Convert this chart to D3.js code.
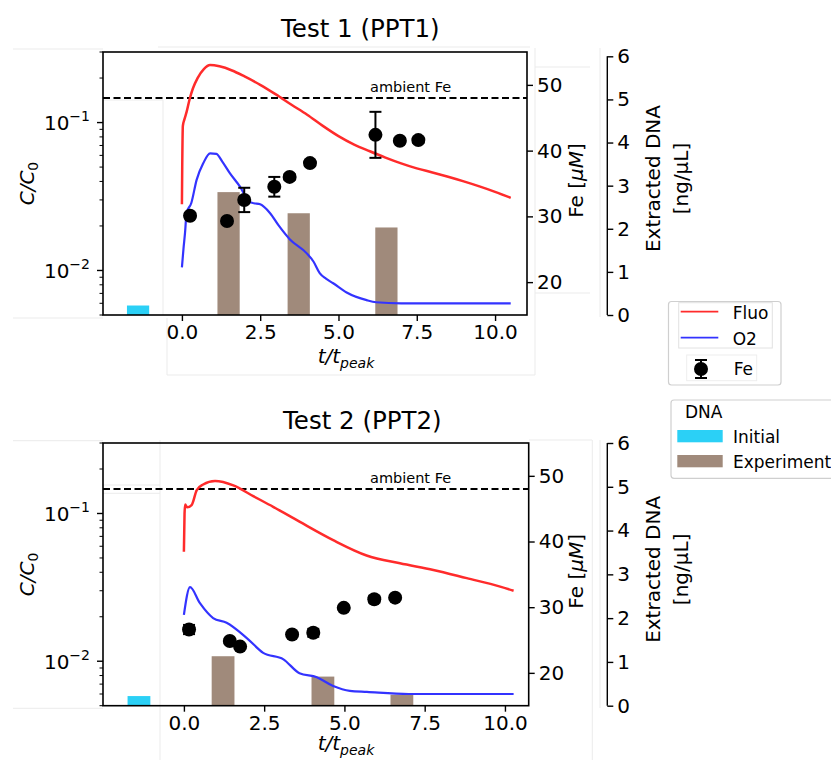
<!DOCTYPE html>
<html><head><meta charset="utf-8">
<script src="https://cdn.jsdelivr.net/npm/d3@7"></script>
<style>body{margin:0;background:#fff}svg{display:block;font-family:"DejaVu Sans",sans-serif}</style>
</head><body>
<script>
// ---------- data ----------
const titles = ["Test 1 (PPT1)", "Test 2 (PPT2)"];
const xTicks = [0, 2.5, 5, 7.5, 10];
const feTicks = [20, 30, 40, 50];
const dnaTicks = [0, 1, 2, 3, 4, 5, 6];
const ambientFe = 48;

const fluoT1 = [0, 0.01, 0.03, 0.08, 0.15, 0.25, 0.35, 0.5, 0.7, 0.9, 1.2, 1.6, 2.0, 2.5, 3.0, 3.5, 4.0, 4.5, 5.0, 5.5, 6.0, 6.5, 7.0, 7.5, 8.0, 8.5, 9.0, 9.5, 10.0, 10.5];
const fluo1  = [0.028, 0.05, 0.095, 0.105, 0.118, 0.145, 0.17, 0.2, 0.23, 0.245, 0.24, 0.225, 0.205, 0.18, 0.155, 0.132, 0.113, 0.095, 0.081, 0.071, 0.064, 0.058, 0.053, 0.049, 0.046, 0.043, 0.040, 0.037, 0.034, 0.031];
const o2T1 = [0, 0.05, 0.1, 0.15, 0.3, 0.47, 0.68, 0.9, 1.1, 1.3, 1.53, 1.85, 2.17, 2.3, 2.5, 2.81, 3.1, 3.45, 3.98, 4.2, 4.4, 4.6, 4.83, 5.26, 5.9, 6.2, 7, 8, 9, 10, 10.5];
const o2_1  = [0.0105, 0.014, 0.018, 0.0245, 0.0286, 0.041, 0.053, 0.062, 0.0614, 0.054, 0.0455, 0.037, 0.029, 0.0285, 0.028, 0.0245, 0.020, 0.0162, 0.0131, 0.0115, 0.0096, 0.0088, 0.0082, 0.0071, 0.0063, 0.0061, 0.006, 0.006, 0.006, 0.006, 0.006];
const feT1 = [0.26, 1.44, 1.99, 2.95, 3.44, 4.09, 6.18, 6.96, 7.55];
const fe1  = [30.1, 29.3, 32.5, 34.5, 36.0, 38.1, 42.4, 41.5, 41.6];
const feErr1 = [0.4, 0.4, 1.85, 1.5, 0.4, 0.4, 3.5, 0.4, 0.4];
const dnaT1 = [1.49, 3.73, 6.53];
const dna1  = [2.85, 2.36, 2.03];

const fluoT2 = [0, 0.02, 0.04, 0.1, 0.24, 0.4, 0.6, 0.97, 1.54, 2.16, 2.78, 3.6, 4.65, 5.69, 6.73, 7.77, 8.81, 9.85, 10.27];
const fluo2  = [0.055, 0.1, 0.115, 0.11, 0.114, 0.144, 0.157, 0.166, 0.155, 0.131, 0.111, 0.088, 0.066, 0.052, 0.046, 0.0415, 0.0365, 0.032, 0.030];
const o2T2 = [0, 0.19, 0.5, 0.91, 1.33, 1.95, 2.47, 3.1, 3.6, 4.14, 4.65, 5.17, 5.7, 7, 8, 9, 10, 10.27];
const o2_2  = [0.0206, 0.0317, 0.0247, 0.0196, 0.0182, 0.0144, 0.0114, 0.0103, 0.0083, 0.0078, 0.0068, 0.0063, 0.0062, 0.006, 0.006, 0.006, 0.006, 0.006];
const feT2 = [0.16, 1.43, 1.75, 3.37, 4.03, 4.98, 5.93, 6.58];
const fe2  = [26.6, 24.85, 24.0, 25.85, 26.1, 29.9, 31.2, 31.45];
const feErr2 = [0.7, 0.3, 0.3, 0.3, 0.6, 0.3, 0.5, 0.3];
const dnaT2 = [1.22, 4.33, 6.79];
const dna2  = [1.13, 0.665, 0.25];

const initialT = -1.4;
const initialDNA = 0.22;
const barWidth = 0.71;

// ---------- drawing ----------
const W = 831, H = 760;
const RED = "#ff2b2b", BLUE = "#3333ff", BROWN = "#a08a7b", CYAN = "#2bd0f6";
const svg = d3.select("body").append("svg").attr("width", W).attr("height", H);

// faint artefact lines
const faint = [
  [13,49,103,49],[13,318,103,318],[103,100,163,100],[163,100,163,315],[158,47,530,47],[167,318,167,375],[167,375,535,375],
  [535,48,535,375],[535,67,590,67],[535,293,590,293],[600,48,600,317],
  [13,440.7,103,440.7],[103,485,160,485],[103,493.3,160,493.3],[160,440,160,760],[13,708.3,103,708.3],
  [592.3,440,592.3,760],[529,440,592,440],[600,440,600,708]
];
svg.append("g").selectAll("line").data(faint).join("line")
  .attr("x1",d=>d[0]).attr("y1",d=>d[1]).attr("x2",d=>d[2]).attr("y2",d=>d[3])
  .attr("stroke","#ebebeb").attr("stroke-width",1);

const panels = [
  {title: titles[0], titleX: 281, titleY: 37, left: 103, right: 527, top: 52, bottom: 315, xdom: [-2.52, 11.02], dnaTop: 6.1,
   fluoT: fluoT1, fluo: fluo1, o2T: o2T1, o2: o2_1, feT: feT1, fe: fe1, feErr: feErr1, dnaT: dnaT1, dna: dna1, xlabY: 363},
  {title: titles[1], titleX: 283, titleY: 429, left: 103, right: 528.7, top: 443, bottom: 705.7, xdom: [-2.52, 10.74], dnaTop: 6.0,
   fluoT: fluoT2, fluo: fluo2, o2T: o2T2, o2: o2_2, feT: feT2, fe: fe2, feErr: feErr2, dnaT: dnaT2, dna: dna2, xlabY: 750}
];

function sup(g, x, y, base, exp, anchorEnd) {
  const t = g.append("text").attr("x", x).attr("y", y).attr("font-size", 20).attr("text-anchor", anchorEnd ? "end" : "start");
  t.append("tspan").text(base);
  t.append("tspan").attr("font-size", 14).attr("dy", -9).text(exp);
}

panels.forEach(p => {
  const g = svg.append("g");
  const x = d3.scaleLinear().domain(p.xdom).range([p.left, p.right]);
  const yC = d3.scaleLog().domain([0.005, 0.3]).range([p.bottom, p.top]);
  const yFe = d3.scaleLinear().domain([15, 55]).range([p.bottom, p.top]);
  const yD = d3.scaleLinear().domain([0, p.dnaTop]).range([p.bottom, p.top]);
  const dnaX = 607.3;

  // title
  g.append("text").attr("x", p.titleX).attr("y", p.titleY).attr("font-size", 24.5).text(p.title);

  // bars
  g.append("rect").attr("x", x(initialT - barWidth/2)).attr("width", x(initialT + barWidth/2) - x(initialT - barWidth/2))
    .attr("y", yD(initialDNA)).attr("height", yD(0) - yD(initialDNA)).attr("fill", CYAN);
  g.selectAll(".bar").data(p.dnaT.map((t,i)=>({t, v: p.dna[i]}))).join("rect")
    .attr("x", d => x(d.t - barWidth/2)).attr("width", d => x(d.t + barWidth/2) - x(d.t - barWidth/2))
    .attr("y", d => yD(d.v)).attr("height", d => yD(0) - yD(d.v)).attr("fill", BROWN);

  // ambient Fe
  g.append("line").attr("x1", p.left).attr("x2", p.right).attr("y1", yFe(ambientFe)).attr("y2", yFe(ambientFe))
    .attr("stroke", "#000").attr("stroke-width", 2).attr("stroke-dasharray", "7,3.5");
  g.append("text").attr("x", 370).attr("y", yFe(ambientFe) - 6).attr("font-size", 14.5).text("ambient Fe");

  // lines
  const line = d3.line().x(d => x(d[0])).y(d => yC(d[1])).curve(d3.curveMonotoneX);
  g.append("path").datum(p.o2T.map((t,i)=>[t, p.o2[i]])).attr("d", line)
    .attr("fill", "none").attr("stroke", BLUE).attr("stroke-width", 2.2).attr("stroke-linejoin","round");
  g.append("path").datum(p.fluoT.map((t,i)=>[t, p.fluo[i]])).attr("d", line)
    .attr("fill", "none").attr("stroke", RED).attr("stroke-width", 2.5).attr("stroke-linejoin","round");

  // Fe points
  const fd = p.feT.map((t,i)=>({t, v: p.fe[i], e: p.feErr[i]}));
  const eg = g.append("g").attr("stroke", "#000").attr("stroke-width", 2);
  fd.forEach(d => {
    const cx = x(d.t), y1 = yFe(d.v + d.e), y2 = yFe(d.v - d.e);
    eg.append("line").attr("x1", cx).attr("x2", cx).attr("y1", y1).attr("y2", y2);
    eg.append("line").attr("x1", cx-6).attr("x2", cx+6).attr("y1", y1).attr("y2", y1);
    eg.append("line").attr("x1", cx-6).attr("x2", cx+6).attr("y1", y2).attr("y2", y2);
  });
  g.selectAll(".fe").data(fd).join("circle").attr("cx", d => x(d.t)).attr("cy", d => yFe(d.v)).attr("r", 7).attr("fill", "#000");

  // frame
  g.append("rect").attr("x", p.left).attr("y", p.top).attr("width", p.right - p.left).attr("height", p.bottom - p.top)
    .attr("fill", "none").attr("stroke", "#000").attr("stroke-width", 1.6);

  // x axis
  const xa = g.append("g").attr("transform", `translate(0,${p.bottom})`)
    .call(d3.axisBottom(x).tickValues(xTicks).tickFormat(d3.format(".1f")).tickSize(6).tickPadding(4));
  xa.select(".domain").remove();
  xa.selectAll("line").attr("stroke-width", 1.4);
  xa.selectAll("text").attr("font-size", 20).attr("font-family", "DejaVu Sans");

  // left log axis
  const minors = [];
  [0.001, 0.01, 0.1].forEach(dec => { for (let k = 2; k <= 9; k++) { const v = k*dec; if (v >= 0.005 && v <= 0.3 + 1e-9) minors.push(v); } });
  g.selectAll(".mn").data(minors).join("line").attr("x1", p.left - 3.5).attr("x2", p.left)
    .attr("y1", d => yC(d)).attr("y2", d => yC(d)).attr("stroke", "#000").attr("stroke-width", 1);
  [[0.1, "\u22121"], [0.01, "\u22122"]].forEach(([v, e]) => {
    g.append("line").attr("x1", p.left - 6).attr("x2", p.left).attr("y1", yC(v)).attr("y2", yC(v)).attr("stroke", "#000").attr("stroke-width", 1.4);
    sup(g, 90, yC(v) + 7.5, "10", e, true);
  });
  const cl = g.append("text").attr("transform", `translate(34,${(p.top+p.bottom)/2}) rotate(-90)`).attr("text-anchor", "middle").attr("font-size", 20).attr("font-style", "italic");
  cl.append("tspan").text("C/C");
  cl.append("tspan").attr("font-size", 14).attr("dy", 4).attr("font-style", "normal").text("0");

  // x label
  const xl = g.append("text").attr("x", 346).attr("y", p.xlabY).attr("text-anchor", "middle").attr("font-size", 20).attr("font-style", "italic");
  xl.append("tspan").text("t/t");
  xl.append("tspan").attr("font-size", 14).attr("dy", 5).text("peak");

  // Fe axis (right)
  const fa = g.append("g").attr("transform", `translate(${p.right},0)`)
    .call(d3.axisRight(yFe).tickValues(feTicks).tickSize(6).tickPadding(4));
  fa.select(".domain").remove();
  fa.selectAll("line").attr("stroke-width", 1.4);
  fa.selectAll("text").attr("font-size", 20).attr("font-family", "DejaVu Sans");
  const fl = g.append("text").attr("transform", `translate(583,${(p.top+p.bottom)/2 - 3}) rotate(-90)`).attr("text-anchor", "middle").attr("font-size", 20);
  fl.append("tspan").text("Fe [");
  fl.append("tspan").attr("font-style", "italic").text("\u03bcM");
  fl.append("tspan").text("]");

  // DNA axis
  const da = g.append("g").attr("transform", `translate(${dnaX},0)`)
    .call(d3.axisRight(yD).tickValues(dnaTicks).tickFormat(d3.format("d")).tickSize(6).tickPadding(4));
  da.select(".domain").attr("d", `M0,${yD(6)}V${yD(0)}`).attr("stroke-width", 1.4);
  da.selectAll("line").attr("stroke-width", 1.4);
  da.selectAll("text").attr("font-size", 20).attr("font-family", "DejaVu Sans");
  const dl = g.append("text").attr("transform", `translate(660,${(p.top+p.bottom)/2 - 5}) rotate(-90)`).attr("text-anchor", "middle").attr("font-size", 20);
  dl.append("tspan").attr("x", 0).attr("dy", 0).text("Extracted DNA");
  dl.append("tspan").attr("x", 0).attr("dy", 28).text("[ng/\u03bcL]");
});

// legend 1
const l1 = svg.append("g").attr("font-size", 17);
l1.append("rect").attr("x", 668.5).attr("y", 301.5).attr("width", 112.5).attr("height", 83.5).attr("rx", 3)
  .attr("fill", "#fff").attr("stroke", "#cfcfcf").attr("stroke-width", 1.2);
l1.append("rect").attr("x", 678.7).attr("y", 302.7).attr("width", 93.6).attr("height", 45.3).attr("fill", "none").attr("stroke", "#e2e2e2");
l1.append("rect").attr("x", 686.7).attr("y", 355).attr("width", 70).attr("height", 25.7).attr("fill", "none").attr("stroke", "#eeeeee");
l1.append("line").attr("x1", 680.7).attr("x2", 718.3).attr("y1", 311.7).attr("y2", 311.7).attr("stroke", RED).attr("stroke-width", 1.8);
l1.append("line").attr("x1", 680.7).attr("x2", 718.3).attr("y1", 337.7).attr("y2", 337.7).attr("stroke", BLUE).attr("stroke-width", 1.8);
l1.append("text").attr("x", 732.7).attr("y", 318.5).text("Fluo");
l1.append("text").attr("x", 732.7).attr("y", 344.5).text("O2");
l1.append("line").attr("x1", 701).attr("x2", 701).attr("y1", 360).attr("y2", 378).attr("stroke", "#000").attr("stroke-width", 2);
l1.append("line").attr("x1", 695).attr("x2", 707).attr("y1", 360).attr("y2", 360).attr("stroke", "#000").attr("stroke-width", 2);
l1.append("line").attr("x1", 695).attr("x2", 707).attr("y1", 378).attr("y2", 378).attr("stroke", "#000").attr("stroke-width", 2);
l1.append("circle").attr("cx", 701).attr("cy", 369).attr("r", 7).attr("fill", "#000");
l1.append("text").attr("x", 733.7).attr("y", 374.5).text("Fe");

// legend 2
const l2 = svg.append("g").attr("font-size", 17);
l2.append("rect").attr("x", 671).attr("y", 400).attr("width", 170).attr("height", 78.3).attr("rx", 3)
  .attr("fill", "#fff").attr("stroke", "#cfcfcf").attr("stroke-width", 1.2);
l2.append("text").attr("x", 685).attr("y", 418.3).text("DNA");
l2.append("rect").attr("x", 677.3).attr("y", 430).attr("width", 45.4).attr("height", 12.3).attr("fill", CYAN);
l2.append("text").attr("x", 733).attr("y", 443.3).text("Initial");
l2.append("rect").attr("x", 677.3).attr("y", 455).attr("width", 45.4).attr("height", 12.3).attr("fill", BROWN);
l2.append("text").attr("x", 733).attr("y", 467.7).text("Experiment");
</script>
</body></html>
